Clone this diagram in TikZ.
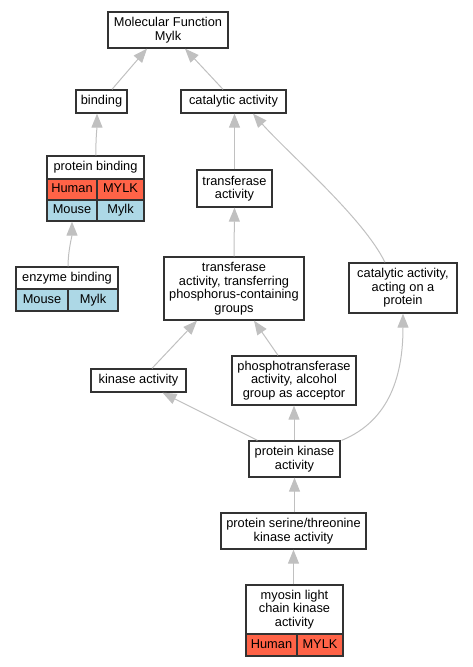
\documentclass[tikz,border=0pt]{standalone}
\usepackage{fontspec}
\setmainfont{Liberation Sans}
\usetikzlibrary{arrows.meta}
\definecolor{edgegray}{RGB}{192,192,192}
\definecolor{human}{RGB}{255,99,71}
\definecolor{mouse}{RGB}{173,216,230}
\tikzset{
  box/.style={draw=black!80, line width=1.3pt, fill=white, align=center, inner sep=0pt,
    font=\fontsize{12.8}{13.5}\selectfont},
  cell/.style={box, text height=9.2pt, text depth=2.7pt},
  humancell/.style={cell, fill=human},
  mousecell/.style={cell, fill=mouse},
  edge/.style={draw=edgegray, line width=1pt, -{Triangle[length=14pt,width=11pt,fill=edgegray]}},
}
\begin{document}
\begin{tikzpicture}[x=1pt,y=-1pt]
\useasboundingbox (0,0) rectangle (472,667);
% nodes
\node[box, minimum width=120, minimum height=36] (mf) at (168,30) {Molecular Function\\Mylk};
\node[cell, minimum width=51, minimum height=23] (bind) at (101.5,101.5) {binding};
\node[cell, minimum width=105, minimum height=23] (cat) at (233.5,101.5) {catalytic activity};
\node[cell, minimum width=97, minimum height=23] (pb) at (95.5,167.5) {protein binding};
\node[humancell, minimum width=50, minimum height=21] (pbH) at (72,189.5) {Human};
\node[humancell, minimum width=47, minimum height=21] (pbHg) at (120.5,189.5) {MYLK};
\node[mousecell, minimum width=50, minimum height=21] (pbM) at (72,210.5) {Mouse};
\node[mousecell, minimum width=47, minimum height=21] (pbMg) at (120.5,210.5) {Mylk};
\node[cell, minimum width=102, minimum height=22] (eb) at (67,278) {enzyme binding};
\node[mousecell, minimum width=52, minimum height=22] (ebM) at (42,300) {Mouse};
\node[mousecell, minimum width=50, minimum height=22] (ebMg) at (93,300) {Mylk};
\node[box, minimum width=75, minimum height=37] (ta) at (234.5,188.5) {transferase\\activity};
\node[box, minimum width=140, minimum height=63] (tt) at (234,288.5) {transferase\\activity, transferring\\phosphorus-containing\\groups};
\node[box, minimum width=108, minimum height=50] (cap) at (403,288) {catalytic activity,\\acting on a\\protein};
\node[cell, minimum width=95, minimum height=23] (ka) at (138.5,380.5) {kinase activity};
\node[box, minimum width=124, minimum height=49] (pt) at (294,380.5) {phosphotransferase\\activity, alcohol\\group as acceptor};
\node[box, minimum width=91, minimum height=36] (pk) at (294.5,459) {protein kinase\\activity};
\node[box, minimum width=145, minimum height=36] (pst) at (293.5,531) {protein serine/threonine\\kinase activity};
\node[box, minimum width=97, minimum height=49] (mlck) at (294.5,609.5) {myosin light\\chain kinase\\activity};
\node[humancell, minimum width=51, minimum height=22] (mlH) at (271.5,645) {Human};
\node[humancell, minimum width=46, minimum height=22] (mlHg) at (320,645) {MYLK};
% edges
\draw[edge] ([xshift=10.5pt]bind.north) -- ([xshift=-21pt]mf.south);
\draw[edge] ([xshift=-10.5pt]cat.north) -- ([xshift=17pt]mf.south);
\draw[edge] ([xshift=0.5pt]pb.north) .. controls ([xshift=0pt,yshift=15pt]pb.north) and ([xshift=-4.5pt,yshift=-14pt]bind.south) .. ([xshift=-4.5pt]bind.south);
\draw[edge] ([xshift=1pt]eb.north) .. controls ([xshift=1pt,yshift=15pt]eb.north) and ([yshift=-14pt]pbM.south) .. (pbM.south);
\draw[edge] (ta.north) -- (ta.north |- cat.south);
\draw[edge] ([xshift=-18pt]cap.north) .. controls ([xshift=-40pt,yshift=45pt]cap.north) and ([xshift=55pt,yshift=-40pt]cat.south) .. ([xshift=19.5pt]cat.south);
\draw[edge] (tt.north) -- (ta.south);
\draw[edge] ([xshift=13.5pt]ka.north) -- ([xshift=-37pt]tt.south);
\draw[edge] ([xshift=-16pt]pt.north) -- ([xshift=20pt]tt.south);
\draw[edge] ([xshift=9pt]pk.north west) -- ([xshift=24pt]ka.south);
\draw[edge] (pk.north -| pt.south) -- (pt.south);
\draw[edge] ([xshift=1pt]pk.north east) .. controls ([xshift=50pt,yshift=20pt]pk.north east) and ([yshift=-60pt]cap.south) .. (cap.south);
\draw[edge] (pst.north -| pk.south) -- (pk.south);
\draw[edge] (mlck.north -| pst.south) -- (pst.south);
\end{tikzpicture}
\end{document}
